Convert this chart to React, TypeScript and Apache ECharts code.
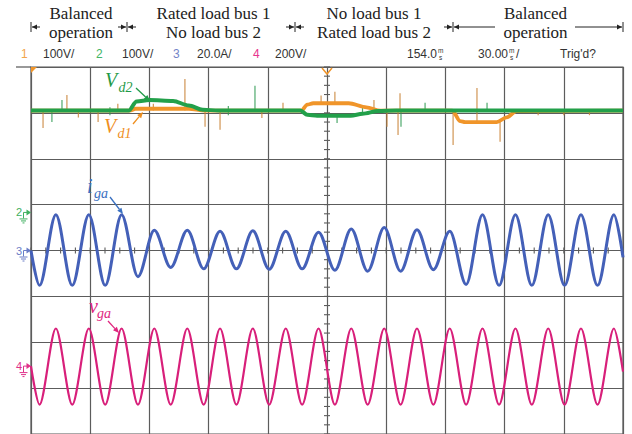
import React, { useEffect, useRef } from "react";
import * as echarts from "echarts";

// Screen: 10 divisions of 30 ms across, 8 divisions vertically
const TIME_MIN = 0;
const TIME_MAX = 300;
const TIME_PER_DIV = 30;
const DIV_MIN = -4;
const DIV_MAX = 4;

// DC-link capacitor voltages, screen divisions vs time (ms)
const VD1_TRACE: [number, number][] = [
  [0, 3.05], [50, 3.05], [53, 3.09], [80, 3.09], [88, 3.05], [137, 3.05],
  [140, 3.18], [143, 3.21], [161, 3.21], [170, 3.12], [177, 3.05],
  [213.5, 3.05], [217.5, 2.82], [220, 2.8], [236, 2.8], [241, 2.9], [246, 3.04], [300, 3.05],
];
const VD2_TRACE: [number, number][] = [
  [0, 3.05], [49.5, 3.05], [53.5, 3.25], [60, 3.28], [72, 3.26], [80, 3.16], [87, 3.07], [95, 3.05],
  [136.5, 3.05], [140, 2.96], [145, 2.94], [162, 2.94], [168, 2.98], [176, 3.04], [185, 3.05], [300, 3.05],
];

// Switching spikes on the DC-link traces: [time, low, high]
const VD1_SPIKES: [number, number, number][] = [
  [6.1, 2.67, 3.05], [18.2, 3.05, 3.39], [24, 2.9, 3.05], [34, 2.8, 3.05], [44, 3.05, 3.2],
  [62, 3.05, 3.2], [78, 3.05, 3.74], [88.2, 2.7, 3.05], [95.8, 2.63, 3.05], [117, 2.89, 3.05],
  [127.7, 3.05, 3.22], [147, 3.21, 3.38], [154, 3.21, 3.46], [173.8, 3.05, 3.28], [180.4, 2.7, 3.05],
  [186, 2.52, 3.05], [187, 3.05, 3.43], [213.9, 2.3, 3.05], [226, 2.8, 3.54], [237.7, 2.37, 2.8],
  [257, 2.95, 3.05], [270, 2.95, 3.05], [283, 2.95, 3.05],
];
const VD2_SPIKES: [number, number, number][] = [
  [10.6, 2.8, 3.05], [15.7, 3.05, 3.28], [40, 2.95, 3.12], [100, 2.95, 3.15], [113.5, 3.05, 3.59],
  [155.1, 2.78, 2.94], [168, 3.0, 3.15], [187.5, 2.7, 3.05], [199.7, 3.05, 3.22], [231.1, 3.05, 3.22],
];

// Peaks and troughs of the 60 Hz grid waveforms (ms)
const EXTREMA_T = [
  4.3, 12.6, 20.9, 29.3, 37.6, 45.9, 54.2, 62.5, 70.8, 79.2, 87.5, 95.8,
  104.1, 112.4, 120.7, 129.1, 137.4, 145.7, 154.0, 162.3, 170.6, 179.0, 187.3, 195.6,
  203.9, 212.2, 220.5, 228.8, 237.2, 245.5, 253.8, 262.1, 270.4, 278.7, 287.1, 295.4,
];
// Grid current i_ga (divisions about its ground level)
const IGA_EXTREMA = [
  -0.76, 0.78, -0.76, 0.78, -0.76, 0.78, -0.57, 0.44, -0.37, 0.44, -0.4, 0.42,
  -0.4, 0.43, -0.41, 0.42, -0.4, 0.4, -0.43, 0.47, -0.45, 0.5, -0.45, 0.45,
  -0.42, 0.42, -0.74, 0.78, -0.76, 0.78, -0.76, 0.78, -0.76, 0.78, -0.76, 0.78,
];
// Grid voltage v_ga (divisions about its ground level)
const VGA_EXTREMA = [
  -0.84, 0.82, -0.84, 0.82, -0.84, 0.82, -0.84, 0.82, -0.84, 0.82, -0.84, 0.82,
  -0.84, 0.82, -0.84, 0.82, -0.84, 0.82, -0.84, 0.82, -0.84, 0.82, -0.84, 0.82,
  -0.84, 0.82, -0.84, 0.82, -0.84, 0.82, -0.84, 0.82, -0.84, 0.82, -0.84, 0.82,
];
const IGA_EDGES = [0.0, -0.15];
const VGA_EDGES = [0.0, -0.12];

// Channel ground levels (divisions)
const CH2_GROUND = 0.83;
const CH3_GROUND = 0;
const CH4_GROUND = -2.52;

// Operating phases shown above the screen (two lines each)
const PHASE_LINE1 = ["Balanced", "Rated load bus 1", "No load bus 1", "Balanced"];
const PHASE_LINE2 = ["operation", "No load bus 2", "Rated load bus 2", "operation"];

const C_ORANGE = "#f0952a";
const C_GREEN = "#22a04a";
const C_BLUE = "#4460b8";
const C_MAGENTA = "#d81f7a";
const GRID_COLOR = "#5c5c5c";

const SERIF = "'Liberation Serif', 'Times New Roman', serif";
const SANS = "'Liberation Sans', Arial, sans-serif";

function wave(offset: number, extrema: number[], edges: number[]): [number, number][] {
  const pts: [number, number][] = [[TIME_MIN, offset + edges[0]]];
  EXTREMA_T.forEach((t, i) => pts.push([t, offset + extrema[i]]));
  pts.push([TIME_MAX, offset + edges[1]]);
  return pts;
}

function spikeSeries(data: [number, number, number][], color: string) {
  return {
    type: "custom",
    silent: true,
    data,
    renderItem: (_p: any, api: any) => {
      const a = api.coord([api.value(0), api.value(1)]);
      const b = api.coord([api.value(0), api.value(2)]);
      return {
        type: "line",
        shape: { x1: a[0], y1: a[1], x2: b[0], y2: b[1] },
        style: { stroke: color, lineWidth: 1.2, opacity: 0.85 },
      };
    },
  };
}

function txt(x: number, y: number, text: string, o: any = {}) {
  return {
    type: "text",
    x,
    y,
    silent: true,
    style: {
      text,
      fill: o.fill ?? "#222",
      fontSize: o.size ?? 17,
      fontFamily: o.family ?? SERIF,
      fontStyle: o.italic ? "italic" : "normal",
      textAlign: o.align ?? "center",
      textVerticalAlign: "middle",
    },
  };
}

function seg(x1: number, y1: number, x2: number, y2: number, color = "#222", w = 1) {
  return { type: "line", silent: true, shape: { x1, y1, x2, y2 }, style: { stroke: color, lineWidth: w } };
}

function tri(points: number[][], color: string) {
  return { type: "polygon", silent: true, shape: { points }, style: { fill: color } };
}

function arrow(x1: number, y1: number, x2: number, y2: number, color: string) {
  const dx = x2 - x1;
  const dy = y2 - y1;
  const len = Math.hypot(dx, dy);
  const ux = dx / len;
  const uy = dy / len;
  const head = 6;
  const half = 2.6;
  const bx = x2 - ux * head;
  const by = y2 - uy * head;
  return [
    seg(x1, y1, bx, by, color, 1.3),
    tri([[x2, y2], [bx - uy * half, by + ux * half], [bx + uy * half, by - ux * half]], color),
  ];
}

// Phase boundary marks of the annotation row
function boundary(x: number, left: boolean, right: boolean, rightLen = 9, leftLen = 9) {
  const y = 27;
  const out: any[] = [seg(x, y - 5, x, y + 5, "#222", 1)];
  if (left) {
    out.push(seg(x - leftLen, y, x - 1, y));
    out.push(tri([[x - 1, y], [x - 6, y - 2.5], [x - 6, y + 2.5]], "#222"));
  }
  if (right) {
    out.push(seg(x + 1, y, x + rightLen, y));
    out.push(tri([[x + 1, y], [x + 6, y - 2.5], [x + 6, y + 2.5]], "#222"));
  }
  return out;
}

export default function App() {
  const ref = useRef<HTMLDivElement>(null);

  useEffect(() => {
    if (!ref.current) return;
    const chart = echarts.init(ref.current, undefined, { renderer: "svg" });

    const hTicks: [number, number][] = [];
    for (let t = TIME_MIN; t <= TIME_MAX + 0.01; t += TIME_PER_DIV / 4) hTicks.push([t, 0]);
    const vTicks: [number, number][] = [];
    for (let v = DIV_MIN; v <= DIV_MAX + 0.01; v += 0.2) vTicks.push([(TIME_MIN + TIME_MAX) / 2, v]);

    const axisCommon = {
      type: "value",
      axisLine: { show: false },
      axisTick: { show: false },
      axisLabel: { show: false },
      splitLine: { show: true, lineStyle: { color: GRID_COLOR, width: 1.2 } },
    };

    chart.setOption({
      animation: false,
      backgroundColor: "#ffffff",
      grid: { left: 31, top: 67, width: 592, height: 368, show: true, borderColor: "#555", borderWidth: 1.2 },
      xAxis: { ...axisCommon, min: TIME_MIN, max: TIME_MAX, interval: TIME_PER_DIV },
      yAxis: { ...axisCommon, min: DIV_MIN, max: DIV_MAX, interval: 1 },
      series: [
        {
          type: "custom",
          silent: true,
          data: hTicks,
          renderItem: (_p: any, api: any) => {
            const p = api.coord([api.value(0), api.value(1)]);
            return { type: "line", shape: { x1: p[0], y1: p[1] - 3, x2: p[0], y2: p[1] + 3 }, style: { stroke: GRID_COLOR, lineWidth: 1.1 } };
          },
        },
        {
          type: "custom",
          silent: true,
          data: vTicks,
          renderItem: (_p: any, api: any) => {
            const p = api.coord([api.value(0), api.value(1)]);
            return { type: "line", shape: { x1: p[0] - 3, y1: p[1], x2: p[0] + 3, y2: p[1] }, style: { stroke: GRID_COLOR, lineWidth: 1.1 } };
          },
        },
        {
          type: "line",
          name: "Vd1",
          data: VD1_TRACE,
          showSymbol: false,
          symbol: "none",
          smooth: 0.3,
          smoothMonotone: "x",
          lineStyle: { color: C_ORANGE, width: 3.8 },
        },
        spikeSeries(VD1_SPIKES, "#c98336"),
        {
          type: "line",
          name: "Vd2",
          data: VD2_TRACE,
          showSymbol: false,
          symbol: "none",
          smooth: 0.3,
          smoothMonotone: "x",
          lineStyle: { color: C_GREEN, width: 4 },
        },
        spikeSeries(VD2_SPIKES, "#2f9a52"),
        {
          type: "line",
          name: "iga",
          data: wave(CH3_GROUND, IGA_EXTREMA, IGA_EDGES),
          showSymbol: false,
          symbol: "none",
          smooth: 0.33,
          smoothMonotone: "x",
          lineStyle: { color: C_BLUE, width: 3 },
        },
        {
          type: "line",
          name: "vga",
          data: wave(CH4_GROUND, VGA_EXTREMA, VGA_EDGES),
          showSymbol: false,
          symbol: "none",
          smooth: 0.3,
          smoothMonotone: "x",
          lineStyle: { color: C_MAGENTA, width: 2.2 },
        },
      ],
    });

    const toPx = (t: number, v: number) => chart.convertToPixel({ gridIndex: 0 }, [t, v]) as number[];

    const groundMark = (label: string, color: string, level: number) => {
      const y = toPx(TIME_MIN, level)[1];
      return [
        txt(19, y, label, { family: SANS, size: 11, fill: color }),
        seg(23.5, y, 23.5, y + 6, color, 1),
        seg(23.5, y, 27, y, color, 1),
        tri([[26.5, y - 3], [31, y], [26.5, y + 3]], color),
        seg(19.5, y + 6.5, 27.5, y + 6.5, color, 1),
        seg(21, y + 8.5, 26, y + 8.5, color, 1),
        seg(22.5, y + 10.5, 24.5, y + 10.5, color, 1),
      ];
    };

    const top = toPx(TIME_MIN, DIV_MAX);
    const trig = toPx((TIME_MIN + TIME_MAX) / 2, DIV_MAX);
    const hdrY = 54;
    const hdr = (x: number, s: string, fill = "#333") => txt(x, hdrY, s, { family: SANS, size: 12, fill, align: "left" });
    const unitMs = (x: number) => [
      txt(x, hdrY - 3.5, "m", { family: SANS, size: 6.5, fill: "#333", align: "left" }),
      txt(x + 1, hdrY + 3.5, "s", { family: SANS, size: 6.5, fill: "#333", align: "left" }),
    ];

    const phaseX = [81, 213.5, 374, 535.5];

    const graphic: any[] = [
      // annotation row
      ...PHASE_LINE1.map((s, i) => txt(phaseX[i], 13.5, s)),
      ...PHASE_LINE2.map((s, i) => txt(phaseX[i], 32.8, s)),
      ...boundary(31, false, true),
      ...boundary(127, true, true),
      ...boundary(295, true, true),
      ...boundary(453, true, true, 42),
      ...boundary(623, true, false, 9, 48),

      // channel settings row
      hdr(21, "1", "#f3a54a"),
      hdr(43, "100V/"),
      hdr(96, "2", "#42b566"),
      hdr(122, "100V/"),
      hdr(173, "3", "#7384c8"),
      hdr(197, "20.0A/"),
      hdr(253, "4", "#e8348e"),
      hdr(275, "200V/"),
      hdr(407, "154.0"),
      ...unitMs(438),
      hdr(478, "30.00"),
      ...unitMs(509),
      hdr(516, "/"),
      hdr(560, "Trig'd?"),
      seg(16, top[1], top[0], top[1], "#555", 1.2),

      // channel 1 off-screen mark and trigger mark
      tri([[top[0], top[1]], [top[0] + 6, top[1]], [top[0], top[1] + 6]], C_ORANGE),
      {
        type: "polyline",
        silent: true,
        shape: { points: [[trig[0] - 5, trig[1] + 1], [trig[0], trig[1] + 7], [trig[0] + 5, trig[1] + 1]] },
        style: { stroke: C_ORANGE, lineWidth: 1.5, fill: "none" },
      },

      // ground references
      ...groundMark("2", "#3fb060", CH2_GROUND),
      ...groundMark("3", "#6a7cc6", CH3_GROUND),
      ...groundMark("4", "#e0308a", CH4_GROUND),

      // trace labels
      txt(105, 80, "V", { italic: true, size: 20, fill: "#1f9a47", align: "left" }),
      txt(118.5, 87, "d2", { italic: true, size: 14, fill: "#1f9a47", align: "left" }),
      ...arrow(136, 88, 150, 101, "#1f9a47"),
      txt(104, 126, "V", { italic: true, size: 20, fill: "#ef8f1f", align: "left" }),
      txt(117.5, 133, "d1", { italic: true, size: 14, fill: "#ef8f1f", align: "left" }),
      ...arrow(133, 124, 143, 112, "#ef8f1f"),
      txt(87, 186, "i", { italic: true, size: 20, fill: "#3a70c0", align: "left" }),
      txt(94, 193, "ga", { italic: true, size: 14, fill: "#3a70c0", align: "left" }),
      ...arrow(110, 197, 123, 214, "#3a70c0"),
      txt(89, 306, "v", { italic: true, size: 20, fill: "#e0267f", align: "left" }),
      txt(97, 313, "ga", { italic: true, size: 14, fill: "#e0267f", align: "left" }),
      ...arrow(108, 321, 119, 333, "#e0267f"),
    ];

    chart.setOption({ graphic });

    return () => chart.dispose();
  }, []);

  return (
    <div
      ref={ref}
      style={{ position: "fixed", left: 0, top: 0, width: 632, height: 434, background: "#fff" }}
    />
  );
}
